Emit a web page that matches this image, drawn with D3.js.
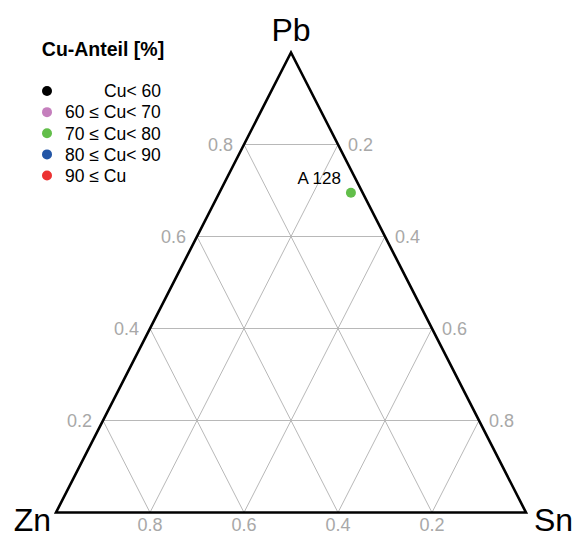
<!DOCTYPE html>
<html>
<head>
<meta charset="utf-8">
<script src="https://cdn.jsdelivr.net/npm/d3@7/dist/d3.min.js"></script>
<style>
  html, body { margin: 0; padding: 0; background: #fff; }
  svg { display: block; font-family: "Liberation Sans", Arial, Helvetica, sans-serif; }
</style>
</head>
<body>
<svg id="chart" width="575" height="534"></svg>
<script>
// Ternary diagram Pb – Zn – Sn, samples coloured by copper share
const vertexLabels = ["Pb", "Zn", "Sn"];
const gridTicks = [0.2, 0.4, 0.6, 0.8];
const tickLabels = ["0.2", "0.4", "0.6", "0.8"];

const legendTitle = "Cu-Anteil [%]";
const legendLabels = ["Cu< 60", "60 \u2264 Cu< 70", "70 \u2264 Cu< 80", "80 \u2264 Cu< 90", "90 \u2264 Cu"];
const legendColors = ["#000000", "#c57fbd", "#62be4a", "#2356a6", "#ec3232"];

const sampleNames = ["A 128"];
const samplePb = [0.695];
const sampleSn = [0.280];
const sampleZn = [0.025];
const sampleCuClass = [2];

const svg = d3.select("#chart");

// linear scales for the ternary frame (x: Sn + Pb/2, y: Pb)
const x = d3.scaleLinear().domain([0, 1]).range([56, 526]);
const y = d3.scaleLinear().domain([0, 1]).range([512.5, 52.5]);
const pos = (pb, sn) => [x(sn + pb / 2), y(pb)];

// grid lines
const grid = svg.append("g").attr("stroke", "#b8b8b8").attr("stroke-width", 1).attr("fill", "none");
const line = d3.line();
gridTicks.forEach(t => {
  // constant Pb: left edge to right edge
  grid.append("path").attr("d", line([pos(t, 0), pos(t, 1 - t)]));
  // constant Sn: bottom to right edge
  grid.append("path").attr("d", line([pos(0, t), pos(1 - t, t)]));
  // constant Zn: bottom to left edge
  grid.append("path").attr("d", line([pos(0, 1 - t), pos(1 - t, 0)]));
});

// triangle frame
svg.append("path")
  .attr("d", line([pos(1, 0), pos(0, 0), pos(0, 1)]) + "Z")
  .attr("fill", "none").attr("stroke", "#000").attr("stroke-width", 2.6)
  .attr("stroke-linejoin", "miter");

// tick labels
const tickG = svg.append("g").attr("fill", "#a8a8a8").attr("font-size", 18);
gridTicks.forEach((t, i) => {
  // Pb on the left edge
  const [lx, ly] = pos(t, 0);
  tickG.append("text").attr("x", lx - 11).attr("y", ly).attr("dy", "0.36em")
    .attr("text-anchor", "end").text(tickLabels[i]);
  // Sn on the right edge
  const [rx, ry] = pos(1 - t, t);
  tickG.append("text").attr("x", rx + 10).attr("y", ry).attr("dy", "0.36em")
    .attr("text-anchor", "start").text(tickLabels[i]);
  // Zn along the bottom
  const [bx, by] = pos(0, 1 - t);
  tickG.append("text").attr("x", bx).attr("y", by + 12).attr("dy", "0.36em")
    .attr("text-anchor", "middle").text(tickLabels[i]);
});

// vertex labels
const vG = svg.append("g").attr("font-size", 32).attr("fill", "#000");
vG.append("text").attr("x", pos(1, 0)[0]).attr("y", 41).attr("text-anchor", "middle").text(vertexLabels[0]);
vG.append("text").attr("x", pos(0, 0)[0] - 5).attr("y", 531).attr("text-anchor", "end").text(vertexLabels[1]);
vG.append("text").attr("x", pos(0, 1)[0] + 8).attr("y", 531).attr("text-anchor", "start").text(vertexLabels[2]);

// samples
sampleNames.forEach((name, i) => {
  const [px, py] = pos(samplePb[i], sampleSn[i]);
  svg.append("circle").attr("cx", px).attr("cy", py).attr("r", 5)
    .attr("fill", legendColors[sampleCuClass[i]]);
  svg.append("text").attr("x", px - 10).attr("y", py - 9)
    .attr("text-anchor", "end").attr("font-size", 17).attr("fill", "#000").text(name);
});

// legend
const lg = svg.append("g");
lg.append("text").attr("x", 103).attr("y", 56).attr("text-anchor", "middle")
  .attr("font-size", 19.5).attr("font-weight", "bold").text(legendTitle);
const rowY = d3.scaleLinear().domain([0, 4]).range([91, 175.5]);
legendLabels.forEach((lab, i) => {
  lg.append("circle").attr("cx", 47).attr("cy", rowY(i)).attr("r", 5).attr("fill", legendColors[i]);
  const t = lg.append("text").attr("y", rowY(i)).attr("dy", "0.36em").attr("font-size", 17.5).text(lab);
  if (i === 0) t.attr("x", 161).attr("text-anchor", "end");
  else t.attr("x", 65).attr("text-anchor", "start");
});
</script>
</body>
</html>
